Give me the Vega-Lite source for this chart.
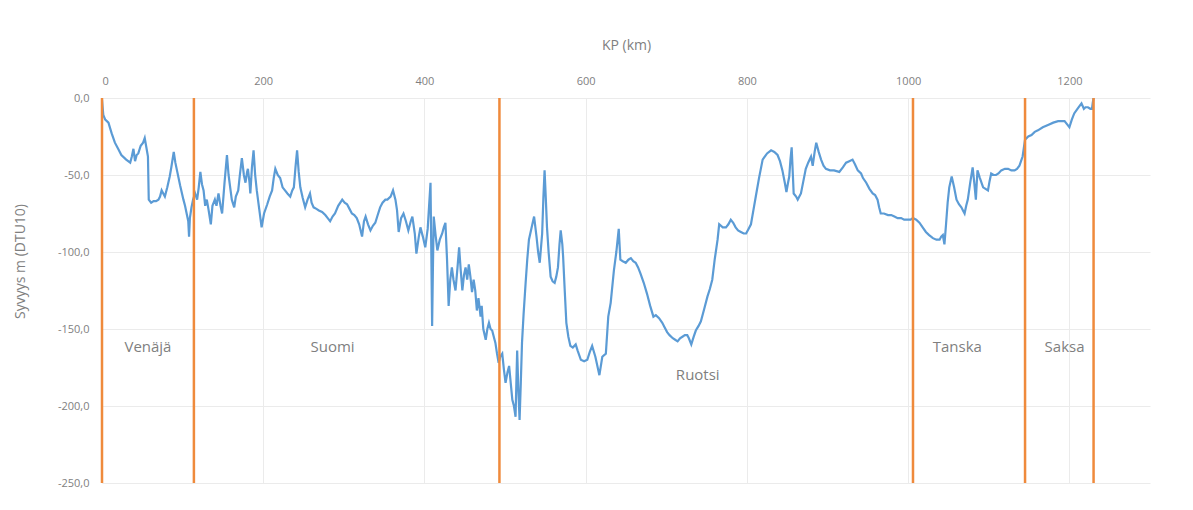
{
  "$schema": "https://vega.github.io/schema/vega-lite/v6.json",
  "width": 1048,
  "height": 385,
  "autosize": {"type": "none"},
  "padding": {"left": 102, "top": 98, "right": 43, "bottom": 27},
  "background": "white",
  "config": {
    "view": {"stroke": null},
    "font": "Open Sans",
    "axis": {"labelColor": "#7f7f7f", "titleColor": "#7f7f7f", "labelFont": "Open Sans", "titleFont": "Open Sans", "titleFontWeight": "normal", "labelFontSize": 11, "titleFontSize": 14, "gridColor": "#ebebeb", "gridWidth": 1, "ticks": false, "domain": false}
  },
  "datasets": {
    "profile": [
      {"km":0,"d":-1},{"km":1.6,"d":-11},{"km":4,"d":-14},{"km":8,"d":-16},{"km":12,"d":-23},{"km":16,"d":-29},{"km":20,"d":-33},{"km":24,"d":-37},{"km":30,"d":-40},{"km":35,"d":-42},{"km":37,"d":-38},{"km":39,"d":-33},{"km":41,"d":-41},{"km":43,"d":-37},{"km":45,"d":-36},{"km":48,"d":-31},{"km":51,"d":-29},{"km":53,"d":-26},{"km":55,"d":-32},{"km":57,"d":-38},{"km":58,"d":-66},{"km":61,"d":-68},{"km":64,"d":-67},{"km":67,"d":-67},{"km":70,"d":-66},{"km":72,"d":-64},{"km":74,"d":-60},{"km":76,"d":-62},{"km":78,"d":-64},{"km":81,"d":-58},{"km":84,"d":-51},{"km":86,"d":-45},{"km":89,"d":-35},{"km":91,"d":-42},{"km":93,"d":-47},{"km":97,"d":-57},{"km":101,"d":-66},{"km":103,"d":-70},{"km":105,"d":-75},{"km":107,"d":-80},{"km":108,"d":-90},{"km":109,"d":-78},{"km":111,"d":-71},{"km":113,"d":-66},{"km":115.5,"d":-62},{"km":118,"d":-66},{"km":120,"d":-58},{"km":122,"d":-48},{"km":124,"d":-56},{"km":126,"d":-60},{"km":128,"d":-70},{"km":130,"d":-66},{"km":132,"d":-72},{"km":135,"d":-82},{"km":137,"d":-70},{"km":140,"d":-66},{"km":142,"d":-70},{"km":144.5,"d":-62},{"km":147,"d":-70},{"km":149,"d":-75},{"km":152,"d":-55},{"km":155,"d":-37},{"km":157,"d":-50},{"km":159,"d":-58},{"km":161,"d":-66},{"km":164,"d":-71},{"km":166,"d":-64},{"km":169,"d":-60},{"km":171,"d":-50},{"km":173.5,"d":-39},{"km":176,"d":-50},{"km":178,"d":-55},{"km":180,"d":-48},{"km":181,"d":-46},{"km":183,"d":-55},{"km":184,"d":-62},{"km":186,"d":-45},{"km":188,"d":-34},{"km":190,"d":-50},{"km":192,"d":-60},{"km":195,"d":-72},{"km":198,"d":-84},{"km":201,"d":-75},{"km":205,"d":-69},{"km":208,"d":-64},{"km":211,"d":-60},{"km":213,"d":-52},{"km":215,"d":-46},{"km":218,"d":-50},{"km":221,"d":-52},{"km":224,"d":-58},{"km":227,"d":-60},{"km":230,"d":-62},{"km":233.5,"d":-64},{"km":236,"d":-60},{"km":238,"d":-58},{"km":240,"d":-45},{"km":242,"d":-34},{"km":244,"d":-48},{"km":246,"d":-58},{"km":249,"d":-65},{"km":252,"d":-71},{"km":255,"d":-66},{"km":258,"d":-62},{"km":260,"d":-68},{"km":262.5,"d":-71},{"km":266,"d":-72},{"km":269,"d":-73},{"km":273,"d":-74},{"km":277,"d":-76},{"km":280,"d":-78},{"km":283,"d":-80},{"km":286,"d":-77},{"km":289,"d":-75},{"km":293,"d":-70},{"km":298,"d":-66},{"km":301,"d":-68},{"km":304,"d":-69},{"km":307,"d":-72},{"km":310,"d":-75},{"km":313,"d":-76},{"km":316,"d":-78},{"km":319,"d":-82},{"km":322.6,"d":-90},{"km":325,"d":-80},{"km":327,"d":-77},{"km":330,"d":-82},{"km":333,"d":-86},{"km":336,"d":-83},{"km":339,"d":-81},{"km":342,"d":-76},{"km":345,"d":-71},{"km":348,"d":-68},{"km":351.5,"d":-66},{"km":354,"d":-66},{"km":358,"d":-64},{"km":361,"d":-60},{"km":364,"d":-66},{"km":366,"d":-73},{"km":368,"d":-87},{"km":371,"d":-78},{"km":374,"d":-75},{"km":377,"d":-80},{"km":380,"d":-86},{"km":383,"d":-80},{"km":385,"d":-77},{"km":388,"d":-88},{"km":390,"d":-101},{"km":393,"d":-90},{"km":395,"d":-84},{"km":398,"d":-90},{"km":401,"d":-97},{"km":404,"d":-85},{"km":407.5,"d":-55},{"km":408.5,"d":-100},{"km":409.5,"d":-148},{"km":410.5,"d":-110},{"km":411.5,"d":-77},{"km":414,"d":-90},{"km":416,"d":-99},{"km":419,"d":-92},{"km":422,"d":-88},{"km":424,"d":-84},{"km":426,"d":-81},{"km":428,"d":-105},{"km":430,"d":-135},{"km":432,"d":-118},{"km":434,"d":-110},{"km":436,"d":-118},{"km":438.5,"d":-125},{"km":441,"d":-110},{"km":443,"d":-97},{"km":445,"d":-112},{"km":447,"d":-125},{"km":449,"d":-115},{"km":451,"d":-110},{"km":453,"d":-118},{"km":455,"d":-108},{"km":457,"d":-116},{"km":459,"d":-126},{"km":461,"d":-118},{"km":463,"d":-125},{"km":465,"d":-138},{"km":467,"d":-130},{"km":469.6,"d":-142},{"km":471,"d":-135},{"km":473,"d":-150},{"km":476,"d":-157},{"km":478,"d":-150},{"km":480,"d":-146},{"km":482,"d":-150},{"km":484,"d":-151},{"km":486,"d":-155},{"km":488,"d":-159},{"km":490,"d":-166},{"km":492,"d":-172},{"km":494,"d":-168},{"km":496.5,"d":-166},{"km":498.5,"d":-176},{"km":500.6,"d":-185},{"km":503,"d":-178},{"km":505,"d":-174},{"km":507,"d":-185},{"km":509,"d":-196},{"km":511,"d":-200},{"km":513,"d":-207},{"km":514,"d":-185},{"km":515,"d":-164},{"km":516.5,"d":-190},{"km":518,"d":-209},{"km":519.5,"d":-185},{"km":521,"d":-159},{"km":523,"d":-140},{"km":525.5,"d":-120},{"km":527.5,"d":-105},{"km":529.6,"d":-92},{"km":533,"d":-84},{"km":536,"d":-77},{"km":539,"d":-90},{"km":541,"d":-100},{"km":543,"d":-107},{"km":546,"d":-88},{"km":547.5,"d":-65},{"km":549,"d":-47},{"km":550.5,"d":-65},{"km":552,"d":-84},{"km":554,"d":-100},{"km":556.5,"d":-116},{"km":559,"d":-119},{"km":561.5,"d":-120},{"km":563.5,"d":-116},{"km":565.6,"d":-110},{"km":567.5,"d":-95},{"km":569,"d":-86},{"km":571,"d":-95},{"km":572,"d":-103},{"km":574,"d":-125},{"km":576,"d":-146},{"km":578.5,"d":-155},{"km":581,"d":-161},{"km":584,"d":-162},{"km":587.6,"d":-160},{"km":590,"d":-164},{"km":594,"d":-170},{"km":598,"d":-171},{"km":602,"d":-170},{"km":605,"d":-165},{"km":608,"d":-161},{"km":612,"d":-168},{"km":617,"d":-180},{"km":620.6,"d":-168},{"km":625,"d":-166},{"km":628,"d":-142},{"km":631,"d":-133},{"km":635,"d":-112},{"km":638,"d":-100},{"km":641,"d":-85},{"km":643,"d":-105},{"km":646,"d":-106},{"km":649.7,"d":-107},{"km":653,"d":-105},{"km":656,"d":-104},{"km":659,"d":-106},{"km":662,"d":-107},{"km":665,"d":-110},{"km":668,"d":-114},{"km":672,"d":-120},{"km":676,"d":-127},{"km":680,"d":-135},{"km":684,"d":-142},{"km":687,"d":-141},{"km":691,"d":-143},{"km":695,"d":-146},{"km":698,"d":-149},{"km":701,"d":-152},{"km":704,"d":-154},{"km":708,"d":-156},{"km":711,"d":-157},{"km":714,"d":-158},{"km":717,"d":-156},{"km":720,"d":-155},{"km":723,"d":-154},{"km":726,"d":-154},{"km":728,"d":-156},{"km":731,"d":-160},{"km":734,"d":-155},{"km":736.6,"d":-151},{"km":740,"d":-148},{"km":742.9,"d":-145},{"km":747,"d":-137},{"km":751,"d":-129},{"km":754,"d":-124},{"km":757,"d":-118},{"km":760,"d":-105},{"km":763.6,"d":-92},{"km":765.6,"d":-82},{"km":770,"d":-84},{"km":774,"d":-84},{"km":777,"d":-82},{"km":780,"d":-79},{"km":783,"d":-81},{"km":786,"d":-84},{"km":789,"d":-86},{"km":792.5,"d":-87},{"km":796,"d":-88},{"km":799,"d":-88},{"km":802,"d":-85},{"km":805,"d":-82},{"km":808,"d":-73},{"km":811,"d":-64},{"km":815,"d":-52},{"km":819.5,"d":-40},{"km":825,"d":-36},{"km":830,"d":-34},{"km":834,"d":-35},{"km":838,"d":-37},{"km":841,"d":-41},{"km":844,"d":-47},{"km":847,"d":-55},{"km":849,"d":-61},{"km":851,"d":-55},{"km":852.5,"d":-51},{"km":854,"d":-40},{"km":855.5,"d":-32},{"km":857,"d":-50},{"km":858,"d":-62},{"km":861,"d":-64},{"km":863,"d":-66},{"km":865,"d":-64},{"km":867,"d":-62},{"km":870,"d":-54},{"km":873,"d":-46},{"km":876,"d":-42},{"km":879.5,"d":-38},{"km":881.6,"d":-44},{"km":884,"d":-35},{"km":886,"d":-29},{"km":889,"d":-35},{"km":892,"d":-40},{"km":895,"d":-44},{"km":898,"d":-46},{"km":903,"d":-47},{"km":908,"d":-47},{"km":914.6,"d":-48},{"km":919,"d":-45},{"km":923,"d":-42},{"km":927,"d":-41},{"km":931,"d":-40},{"km":934,"d":-43},{"km":937.5,"d":-47},{"km":941.6,"d":-49},{"km":944,"d":-52},{"km":948,"d":-55},{"km":952,"d":-59},{"km":956,"d":-62},{"km":959,"d":-63},{"km":962,"d":-66},{"km":964,"d":-71},{"km":966,"d":-75},{"km":970,"d":-75},{"km":975,"d":-76},{"km":979,"d":-76},{"km":983,"d":-77},{"km":987,"d":-78},{"km":991.3,"d":-78},{"km":995,"d":-79},{"km":999.6,"d":-79},{"km":1003,"d":-79},{"km":1006,"d":-78},{"km":1010,"d":-79},{"km":1014,"d":-81},{"km":1018,"d":-84},{"km":1022,"d":-87},{"km":1026,"d":-89},{"km":1030.7,"d":-91},{"km":1035,"d":-92},{"km":1039,"d":-92},{"km":1041,"d":-90},{"km":1043,"d":-89},{"km":1045,"d":-95},{"km":1047,"d":-82},{"km":1049,"d":-68},{"km":1051,"d":-58},{"km":1054,"d":-51},{"km":1057,"d":-58},{"km":1060,"d":-66},{"km":1063,"d":-69},{"km":1066,"d":-71},{"km":1068,"d":-73},{"km":1070,"d":-75},{"km":1072,"d":-70},{"km":1074,"d":-66},{"km":1077,"d":-55},{"km":1080,"d":-45},{"km":1082,"d":-55},{"km":1084,"d":-66},{"km":1085,"d":-56},{"km":1086,"d":-47},{"km":1089,"d":-52},{"km":1093,"d":-58},{"km":1096,"d":-59},{"km":1099,"d":-60},{"km":1101,"d":-54},{"km":1103,"d":-49},{"km":1106,"d":-50},{"km":1109,"d":-50},{"km":1112,"d":-49},{"km":1115.5,"d":-47},{"km":1120,"d":-46},{"km":1124,"d":-46},{"km":1128,"d":-47},{"km":1132,"d":-47},{"km":1135,"d":-46},{"km":1138,"d":-44},{"km":1140,"d":-41},{"km":1142,"d":-38},{"km":1145,"d":-27},{"km":1149,"d":-25},{"km":1153,"d":-24},{"km":1157,"d":-22},{"km":1161,"d":-21},{"km":1167,"d":-19},{"km":1173.5,"d":-17.5},{"km":1180,"d":-16},{"km":1186,"d":-15},{"km":1190,"d":-15},{"km":1194,"d":-15},{"km":1197,"d":-17},{"km":1200,"d":-19},{"km":1203,"d":-14},{"km":1206,"d":-10},{"km":1210,"d":-7},{"km":1215,"d":-3.5},{"km":1218,"d":-7},{"km":1220,"d":-6},{"km":1223,"d":-6},{"km":1226,"d":-7},{"km":1228,"d":-7},{"km":1229,"d":-3},{"km":1230,"d":0}
    ],
    "borders": [{"km":0},{"km":114},{"km":493},{"km":1006},{"km":1145},{"km":1230}],
    "countries": [
      {"km":57,"d":-162,"name":"Venäjä"},
      {"km":286,"d":-162,"name":"Suomi"},
      {"km":739,"d":-180,"name":"Ruotsi"},
      {"km":1061,"d":-162,"name":"Tanska"},
      {"km":1194,"d":-162,"name":"Saksa"}
    ]
  },
  "layer": [
    {
      "data": {"name": "profile"},
      "mark": {"type": "line", "color": "#5b9bd5", "strokeWidth": 2.2, "clip": true},
      "encoding": {
        "x": {"field": "km", "type": "quantitative", "scale": {"domain": [0, 1300], "nice": false, "zero": false},
          "axis": {"orient": "top", "title": "KP (km)", "format": "d", "values": [0,200,400,600,800,1000,1200], "grid": true, "labelPadding": 12, "titleY": -46, "labelFontSize": 11}},
        "y": {"field": "d", "type": "quantitative", "scale": {"domain": [-250, 0], "nice": false},
          "axis": {"title": "Syvyys m (DTU10)", "values": [0,-50,-100,-150,-200,-250], "grid": true, "labelExpr": "datum.value + ',0'", "labelPadding": 13, "titleX": -75, "titleY": 163, "labelFontSize": 11}}
      }
    },
    {
      "data": {"name": "borders"},
      "mark": {"type": "rule", "color": "#ef8a3c", "strokeWidth": 2.5},
      "encoding": {"x": {"field": "km", "type": "quantitative"}}
    },
    {
      "data": {"name": "countries"},
      "mark": {"type": "text", "color": "#7f7f7f", "fontSize": 15, "font": "Open Sans"},
      "encoding": {
        "x": {"field": "km", "type": "quantitative"},
        "y": {"field": "d", "type": "quantitative"},
        "text": {"field": "name"}
      }
    }
  ]
}
